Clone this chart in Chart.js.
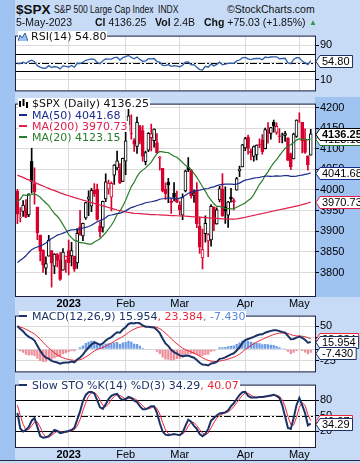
<!DOCTYPE html>
<html>
<head>
<meta charset="utf-8">
<script src="https://cdn.jsdelivr.net/npm/chart.js@4.4.1/dist/chart.umd.min.js"></script>
<style>
html, body { margin: 0; padding: 0; }
body { width: 360px; height: 463px; position: relative; overflow: hidden; background: #c7dbf7; font-family: "Liberation Sans", Arial, sans-serif; color: #111; }
canvas { position: absolute; left: 0; }
#strip { position: absolute; left: 0; top: 0; width: 15px; height: 460px; background: #a0c4f1; }
#foot { position: absolute; left: 0; top: 460px; width: 360px; height: 1px; background: #2a2a40; }
.t { position: absolute; white-space: nowrap; font-size: 10.5px; line-height: 12px; }
.b { font-weight: bold; }
.sq { transform: scaleX(0.78); transform-origin: 0 0; }
.lg { position: absolute; white-space: nowrap; font: 11px "DejaVu Sans", Verdana, sans-serif; line-height: 11px; background: #fff; padding-right: 1px; }
.dash { display: inline-block; width: 8px; height: 2px; vertical-align: middle; margin-right: 5px; position: relative; top: -1px; }
</style>
</head>
<body>
<div id="strip"></div>
<div id="foot"></div>
<canvas id="rsi" width="360" height="69" style="top:29px"></canvas>
<canvas id="price" width="360" height="212" style="top:97px"></canvas>
<canvas id="macd" width="360" height="70" style="top:309px"></canvas>
<canvas id="sto" width="360" height="82" style="top:378px"></canvas>

<div class="t b" style="left:16px;top:2px;font-size:13.5px;line-height:15px;">$SPX</div>
<div class="t sq" style="left:54px;top:3px;font-size:11px;">S&amp;P 500 Large Cap Index</div>
<div class="t sq" style="left:158px;top:3px;font-size:11px;">INDX</div>
<div class="t" style="left:227px;top:3px;">&copy;StockCharts.com</div>
<div class="t" style="left:16px;top:16px;">5-May-2023</div>
<div class="t" style="left:95px;top:16px;"><span class="b">Cl</span> 4136.25</div>
<div class="t" style="left:155px;top:16px;"><span class="b">Vol</span> 2.4B</div>
<div class="t" style="left:204px;top:16px;"><span class="b">Chg</span> +75.03 (+1.85%)</div>
<div class="t" style="left:309px;top:17px;font-size:8px;color:#2a9a3a;">&#9650;</div>

<div class="lg" style="left:18px;top:31px;"><svg width="10" height="9" style="vertical-align:-1px;margin-right:3px"><polyline points="0,9 2,3 4,6 7,1 10,9" fill="#9cc0ee" stroke="#2d5ea8" stroke-width="1"/></svg>RSI(14) 54.80</div>

<div class="lg" style="left:18px;top:98px;"><svg width="11" height="9" style="vertical-align:-1px;margin-right:3px"><rect x="1" y="2" width="2" height="6" fill="#000"/><rect x="4.5" y="0" width="2" height="7" fill="#000"/><rect x="8" y="3" width="2" height="6" fill="#000"/></svg>$SPX (Daily) 4136.25</div>
<div class="lg" style="left:19px;top:110px;color:#1a2b8c;"><span class="dash" style="background:#1a2b8c"></span>MA(50) 4041.68</div>
<div class="lg" style="left:19px;top:121px;color:#e0204a;"><span class="dash" style="background:#e0204a"></span>MA(200) 3970.73</div>
<div class="lg" style="left:19px;top:132px;color:#2a7d2a;"><span class="dash" style="background:#2a7d2a"></span>MA(20) 4123.15</div>

<div class="lg" style="left:19px;top:311px;color:#1c3266;"><span class="dash" style="background:#1c3266"></span>MACD(12,26,9) 15.954<span style="color:#e8283c">, 23.384</span><span style="color:#5a8ad8">, -7.430</span></div>
<div class="lg" style="left:19px;top:380px;color:#1c3266;"><span class="dash" style="background:#1c3266"></span>Slow STO %K(14) %D(3) 34.29<span style="color:#e8283c">, 40.07</span></div>

<script>
// trading days shown, Dec 2022 .. May 2023
const dates = [
  '12/6','12/7','12/8','12/9','12/12','12/13','12/14','12/15','12/16','12/19','12/20','12/21','12/22','12/23','12/27','12/28','12/29','12/30',
  '1/3','1/4','1/5','1/6','1/9','1/10','1/11','1/12','1/13','1/17','1/18','1/19','1/20','1/23','1/24','1/25','1/26','1/27','1/30','1/31',
  '2/1','2/2','2/3','2/6','2/7','2/8','2/9','2/10','2/13','2/14','2/15','2/16','2/17','2/21','2/22','2/23','2/24','2/27','2/28',
  '3/1','3/2','3/3','3/6','3/7','3/8','3/9','3/10','3/13','3/14','3/15','3/16','3/17','3/20','3/21','3/22','3/23','3/24','3/27','3/28','3/29','3/30','3/31',
  '4/3','4/4','4/5','4/6','4/10','4/11','4/12','4/13','4/14','4/17','4/18','4/19','4/20','4/21','4/24','4/25','4/26','4/27','4/28',
  '5/1','5/2','5/3','5/4','5/5'
];
const monthStarts = ['1/3', '2/1', '3/1', '4/3', '5/1'];
const monthLabels = ['2023', 'Feb', 'Mar', 'Apr', 'May'];

const priorClose = 3998.8;
const open = [
  3996.6,3933.3,3947.8,3954.2,3939.3,4069.4,4015.5,3958.4,3890.9,3853.8,3810.5,3839.5,3853.3,3815.1,3843.3,3829.6,3805.5,3829.1,
  3853.3,3840.4,3839.7,3823.4,3910.8,3888.6,3932.4,3977.6,3960.6,3999.3,4002.3,3911.8,3909.0,3978.1,4001.7,3982.7,4036.1,4053.7,4049.3,4020.9,
  4070.1,4158.7,4136.7,4119.6,4105.4,4153.5,4144.3,4068.9,4096.6,4126.7,4119.5,4114.8,4077.4,4052.4,4001.8,4018.6,3973.2,3992.4,3977.2,
  3963.3,3938.7,3998.0,4055.2,4048.3,3987.6,3998.7,3912.8,3835.1,3894.0,3876.7,3878.9,3958.7,3917.5,3975.9,4002.0,3959.2,3939.2,3982.9,3974.1,3999.5,4046.7,4056.2,
  4102.2,4128.0,4094.5,4081.2,4085.2,4110.3,4121.7,4100.0,4140.1,4137.2,4164.3,4139.3,4130.5,4132.1,4132.1,4126.4,4087.8,4075.3,4129.6,
  4166.8,4164.1,4122.3,4082.6,4084.7
];
const high = [
  4001.5,3957.6,3974.2,3977.0,3990.7,4101.0,4053.8,3958.4,3890.9,3854.9,3838.2,3889.8,3853.3,3845.8,3846.7,3848.3,3858.2,3839.9,
  3878.5,3873.2,3839.7,3906.2,3950.6,3919.8,3970.1,3997.8,4004.0,4015.4,4014.2,3922.9,3973.0,4039.3,4023.9,4019.6,4061.6,4094.2,4063.9,4077.2,
  4149.0,4195.4,4182.4,4124.6,4176.5,4156.9,4156.2,4094.4,4138.9,4159.8,4148.1,4136.5,4081.5,4052.4,4017.4,4028.3,3978.3,4018.1,3997.5,
  3971.7,3990.8,4048.3,4078.5,4050.0,4000.4,4017.8,3934.1,3905.1,3937.3,3894.3,3964.5,3958.9,3956.6,4009.1,4039.5,4007.7,3972.7,4003.8,3979.2,4030.6,4057.9,4110.8,
  4127.7,4133.1,4099.7,4107.3,4109.5,4124.3,4134.4,4150.3,4163.2,4151.7,4169.5,4162.6,4148.6,4138.0,4142.4,4126.4,4089.7,4138.2,4170.1,
  4186.9,4164.1,4148.3,4082.6,4147.0
];
const low = [
  3918.4,3922.7,3935.8,3933.0,3935.3,3993.0,3965.7,3879.5,3827.9,3800.0,3795.6,3839.5,3764.5,3797.0,3813.2,3780.8,3805.5,3800.3,
  3794.3,3815.8,3802.4,3809.6,3890.4,3877.3,3928.5,3937.6,3947.7,3984.6,3926.6,3885.5,3897.9,3971.6,3989.8,3949.1,4013.3,4048.7,4015.6,4020.4,
  4037.2,4141.9,4123.4,4093.4,4088.4,4111.7,4069.7,4060.8,4092.7,4095.0,4104.0,4089.5,4048.0,3995.2,3976.9,3969.2,3943.1,3973.6,3969.0,
  3939.1,3928.2,3995.2,4044.6,3980.3,3969.8,3908.7,3846.3,3808.9,3873.6,3838.2,3864.1,3901.3,3916.9,3971.2,3936.2,3919.1,3909.2,3970.5,3951.5,3999.5,4032.1,4056.2,
  4095.3,4086.9,4072.6,4069.8,4072.6,4102.6,4086.9,4099.4,4113.2,4123.2,4140.4,4134.5,4114.6,4113.9,4117.8,4071.4,4049.4,4075.3,4127.2,
  4164.1,4089.7,4088.9,4048.3,4084.7
];
const close = [
  3941.3,3933.9,3963.5,3934.4,3990.6,4019.7,3995.3,3895.8,3852.4,3817.7,3821.6,3878.4,3822.4,3844.8,3829.3,3783.2,3849.3,3839.5,
  3824.1,3853.0,3808.1,3895.1,3892.1,3919.3,3969.6,3983.2,3999.1,3991.0,3928.9,3898.9,3972.6,4019.8,4017.0,4016.2,4060.4,4070.6,4017.8,4076.6,
  4119.2,4179.8,4136.5,4111.1,4164.0,4117.9,4081.5,4090.5,4137.3,4136.1,4147.6,4090.4,4079.1,3997.3,3991.1,4012.3,3970.0,3982.2,3970.2,
  3951.4,3981.4,4045.6,4048.4,3986.4,3992.0,3918.3,3861.6,3855.8,3919.3,3891.9,3960.3,3916.6,3951.6,4002.9,3937.0,3948.7,3971.0,3977.5,3971.3,4027.8,4050.8,4109.3,
  4124.5,4100.6,4090.4,4105.0,4109.1,4108.9,4092.0,4146.2,4137.6,4151.3,4154.9,4154.5,4129.8,4133.5,4137.0,4071.6,4056.0,4135.4,4169.5,
  4167.9,4119.6,4090.8,4061.2,4136.25
];
const ma20 = [
  3972.1,3977.4,3988.2,3987.1,3987.0,3990.1,3990.3,3987.1,3982.4,3975.0,3968.6,3962.3,3952.1,3943.0,3936.3,3927.6,3916.0,3904.2,
  3891.8,3884.5,3877.9,3875.9,3872.3,3871.6,3870.5,3868.7,3868.9,3873.7,3877.5,3881.5,3889.1,3896.2,3905.9,3914.5,3926.0,3940.4,3948.8,3960.7,
  3975.4,3991.8,4008.2,4019.0,4032.6,4042.5,4048.1,4053.5,4060.4,4067.6,4078.6,4088.1,4093.5,4092.3,4091.1,4090.9,4086.3,4081.9,4079.5,
  4073.3,4066.4,4059.7,4055.3,4049.0,4040.4,4030.5,4019.5,4007.7,3996.8,3984.6,3975.3,3966.6,3960.2,3960.5,3957.8,3954.6,3954.6,3954.4,3954.5,3958.3,3961.7,3964.9,
  3968.7,3974.4,3979.4,3988.7,4001.1,4013.7,4022.4,4035.1,4043.9,4055.7,4065.8,4073.4,4083.1,4092.3,4100.6,4105.3,4109.5,4114.9,4120.9,
  4123.8,4123.5,4123.1,4121.6,4123.15
];
const ma50 = [
  3823.9,3829.7,3834.6,3840.4,3848.5,3855.4,3859.4,3861.7,3863.9,3867.4,3871.6,3877.4,3882.3,3885.8,3890.7,3892.8,3895.4,3898.3,
  3901.5,3903.5,3903.7,3904.4,3905.6,3907.9,3909.2,3911.5,3914.3,3918.9,3923.1,3925.7,3929.0,3932.8,3938.2,3939.4,3940.8,3943.0,3943.5,3945.9,
  3949.4,3953.6,3957.4,3959.5,3962.3,3964.1,3966.4,3969.1,3970.3,3971.4,3973.0,3974.8,3977.5,3978.8,3979.4,3980.9,3980.5,3979.8,3979.3,
  3980.4,3983.0,3987.5,3992.0,3994.2,3997.6,3999.1,3999.7,4001.2,4002.6,4003.6,4006.3,4007.6,4010.5,4012.6,4013.5,4014.1,4014.2,4014.0,4013.5,4014.2,4016.7,4020.9,
  4023.9,4025.5,4027.0,4028.8,4029.7,4030.5,4032.0,4033.4,4033.7,4033.2,4033.5,4034.4,4033.7,4034.0,4035.1,4034.8,4033.1,4033.1,4033.6,
  4035.1,4035.9,4037.8,4039.2,4041.68
];
const ma200 = [
  4036,4033,4030.5,4027,4024.5,4021.5,4018.5,4015.5,4012.5,4009.5,4006.5,4004,4001,3998.5,3996,3993,3990.5,3988,
  3986,3984,3981.5,3979.5,3977.5,3975.5,3973.5,3971.5,3969.5,3967.5,3965.5,3963.5,3961.5,3959.5,3957.5,3955.5,3953.5,3951.5,3950,3948.5,
  3947,3945.5,3944.5,3943.5,3943,3942.5,3942,3941.5,3941,3940.5,3940.5,3940,3939.5,3939,3939,3938.5,3938,3938,3937.5,
  3937,3937,3936.5,3936,3935.5,3935,3934.5,3934,3933.5,3933,3932.5,3932,3931.5,3931,3930.5,3930,3930,3929.5,3929.5,3929.5,3930,3931,3932.5,
  3934,3935.5,3937,3938.5,3940,3941.5,3943,3944.5,3946,3947.5,3949,3950.5,3952,3953.5,3955,3956.5,3958,3959.5,3961,
  3962.5,3964.5,3966.5,3968.5,3970.73
];
const rsi = [
  48,48,51,48,53,55.5,52,43,39.5,37,37.5,43,38.5,41,39.5,35.5,42.5,41.5,
  40,43.5,39.5,48.5,48,51,55.5,57,58.5,57.5,50.5,47.5,54.5,58.5,58,58,61.5,62.5,56,61.5,
  64,66.5,62,59,63,57.5,53,54,59,58.5,59.5,52.5,51,43.5,43,45.5,41.5,43,42,
  40.5,44,51,51.5,45,45.5,39.5,34,33,41.5,39.5,46.5,42.5,46,51,45,46.5,48.5,49,48.5,54,56,61,
  62,58.5,57,59,59.5,59.5,56.5,63,61.5,63,63.5,63.5,59,59.5,60,49.5,47.5,57.5,61.5,
  61,53.5,49.5,45.5,54.80
];
const macd = [
  50,44,39,32,27,24,19,8,-3,-12,-18,-20,-25,-27,-28.5,-31,-29,-28.5,
  -28.5,-26.5,-28,-22,-17.5,-11.5,-3,4,10.5,15,13,9.5,13,19,23.5,26.5,32,37,36,43,
  48,55,57,56,58,56,52,49,49,48,47.5,42,35,23,13,7,-1,-6,-9,
  -13,-15,-14,-13.5,-16,-18,-23,-29,-33,-33.5,-35,-30.5,-29.5,-27,-20.5,-19.5,-17.5,-14,-11,-8.5,-2.5,4.5,14,
  20,22.5,24.5,27,30,32,32.5,36,38,40,41.5,41.5,39.5,37.5,36,29,22,22.5,25.5,
  27.5,25,20.5,14.5,15.954
];
const signal = [
  51,48,46.2,43.4,40.1,36.9,33.3,28.2,22,15.2,8.6,2.9,-2.7,-7.6,-11.8,-15.6,-18.3,-20.3,
  -22,-22.9,-23.9,-23.5,-22.3,-20.1,-16.7,-12.6,-8,-3.4,-0.1,1.8,4,7,10.3,13.5,17.2,21.2,24.2,27.9,
  31.9,36.5,40.6,43.7,46.6,48.4,49.1,49.1,49.1,48.9,48.6,47.3,44.8,40.4,34.9,29.3,23.2,17.4,12.1,
  7.1,2.7,-0.6,-3.2,-5.8,-8.2,-11.2,-14.8,-18.4,-21.4,-24.1,-25.4,-26.2,-26.4,-25.2,-24.1,-22.8,-21,-19,-16.9,-14,-10.3,-5.4,
  -0.3,4.3,8.3,12,15.6,18.9,21.6,24.5,27.2,29.8,32.1,34,35.1,35.6,35.7,34.4,31.9,30,29.1,
  28.8,28.5,27.3,25.2,23.384
];
const hist = [
  -1,-4,-7.2,-11.4,-13.1,-12.9,-14.3,-20.2,-25,-27.2,-26.6,-22.9,-22.3,-19.4,-16.7,-15.4,-10.7,-8.2,
  -6.5,-3.6,-4.1,1.5,4.8,8.6,13.7,16.6,18.5,18.4,13.1,7.7,9,12,13.2,13,14.8,15.8,11.8,15.1,
  16.1,18.5,16.4,12.3,11.4,7.6,2.9,-0.1,-0.1,-0.9,-1.1,-5.3,-9.8,-17.4,-21.9,-22.3,-24.2,-23.4,-21.1,
  -20.1,-17.7,-13.4,-10.3,-10.2,-9.8,-11.8,-14.2,-14.6,-12.1,-10.9,-5.1,-3.3,-0.6,4.7,4.6,5.3,7,8,8.4,11.5,14.8,19.4,
  20.3,18.2,16.2,15,14.4,13.1,10.9,11.5,10.8,10.2,9.4,7.5,4.4,1.9,0.3,-5.4,-9.9,-7.5,-3.6,
  -1.3,-3.5,-6.8,-10.7,-7.43
];
const stoK = [
  55,25,19,22,28,40,45,28,10,7,8,10,16,22,20,16,17,19,
  20,22,26,42,58,78,90,95,96,93,80,66,63,72,82,88,91,92,84,80,
  82,86,84,79,76,68,62,62,65,68,68,55,35,19,13,12,13,14,13,
  12,17,30,42,38,30,24,14,10,14,24,40,45,50,54,55,56,60,68,74,82,90,95,
  96,88,85,85,85,86,86,87,88,89,90,88,84,70,48,26,24,45,70,
  84,70,55,31,34.29
];
const stoD = [
  70,50,33,22,23,30,37.7,37.7,27.7,15,8.3,8.3,11.3,16,19.3,19.3,17.7,17.3,
  18.7,20.3,22.7,30,42,59.3,75.3,87.7,93.7,94.7,89.7,79.7,69.7,67,72.3,80.7,87,90.3,89,85.3,
  82,82.7,84,83,79.7,74.3,68.7,64,63,65,67,63.7,52.7,36.3,22.3,14.7,12.7,13,13.3,
  13,14,19.7,29.7,36.7,36.7,30.7,22.7,16,12.7,16,26,36.3,45,49.7,53,55,57,61.3,67.3,74.7,82,89,
  93.7,93,89.7,86,85,85.3,85.7,86.3,87,88,89,89,87.3,80.7,67.3,48,32.7,31.7,46.3,
  66.3,74.7,69.7,52,40.07
];

const rsiTicks = [10, 30, 50, 70, 90];
const priceTicks = [3800, 3850, 3900, 3950, 4000, 4050, 4100, 4150, 4200];
const macdTicks = [-25, 0, 25, 50];
const stoTicks = [20, 50, 80];

const LIGHT = '#c7dbf7', MID = '#a0c4f1', GRID = '#dadada', EDGE = '#1e1e3c';
const RED = '#d8002c', NAVY = '#1c3266';

const labels = dates.concat(['']);
const monthIdx = monthStarts.map(d => dates.indexOf(d));

const panel = {
  id: 'panel',
  beforeDraw(chart, args, o) {
    const { ctx, chartArea: a, width, height } = chart;
    ctx.save();
    ctx.fillStyle = LIGHT;
    ctx.fillRect(0, 0, width, height);
    ctx.fillStyle = MID;
    ctx.fillRect(0, 0, 15, height);
    if (o.axisFill) ctx.fillRect(a.right, 0, width - a.right, a.bottom + 1);
    ctx.fillStyle = '#fff';
    ctx.fillRect(a.left, a.top, a.right - a.left, a.bottom - a.top);
    ctx.restore();
  },
  beforeDatasetsDraw(chart, args, o) {
    const { ctx, chartArea: a } = chart;
    const y = chart.scales.y;
    ctx.save();
    ctx.strokeStyle = '#000';
    ctx.lineWidth = 1;
    (o.solid || []).forEach(v => {
      const py = Math.round(y.getPixelForValue(v)) + 0.5;
      ctx.beginPath(); ctx.moveTo(a.left, py); ctx.lineTo(a.right, py); ctx.stroke();
    });
    ctx.setLineDash([7, 2, 2, 2]);
    (o.dashed || []).forEach(v => {
      const py = Math.round(y.getPixelForValue(v)) + 0.5;
      ctx.beginPath(); ctx.moveTo(a.left, py); ctx.lineTo(a.right, py); ctx.stroke();
    });
    ctx.restore();
  },
  afterDraw(chart, args, o) {
    const { ctx, chartArea: a } = chart;
    const y = chart.scales.y;
    ctx.save();
    ctx.strokeStyle = EDGE;
    ctx.lineWidth = 1;
    ctx.strokeRect(a.left - 0.5, a.top - 0.5, a.right - a.left + 1, a.bottom - a.top + 1);
    const x0 = a.right + 1;
    (o.tags || []).forEach(t => {
      const py = Math.round(y.getPixelForValue(t.value)) + 0.5;
      const text = t.value.toFixed(t.digits);
      ctx.font = (t.bold ? 'bold ' : '') + '11px "Liberation Sans"';
      const w = ctx.measureText(text).width + 5;
      ctx.beginPath();
      ctx.moveTo(x0, py);
      ctx.lineTo(x0 + 4, py - 6);
      ctx.lineTo(x0 + 4 + w, py - 6);
      ctx.lineTo(x0 + 4 + w, py + 6);
      ctx.lineTo(x0 + 4, py + 6);
      ctx.closePath();
      ctx.fillStyle = '#fff';
      ctx.fill();
      ctx.strokeStyle = t.color;
      ctx.stroke();
      ctx.fillStyle = '#000';
      ctx.textBaseline = 'middle';
      ctx.fillText(text, x0 + 6, py + 0.5);
    });
    ctx.restore();
  }
};

function xScale(showLabels) {
  return {
    type: 'category',
    offset: true,
    afterBuildTicks: s => { s.ticks = monthIdx.map(v => ({ value: v })); },
    afterFit: s => { s.height = showLabels ? 13 : 0; },
    grid: { color: GRID, drawTicks: false, offset: false },
    border: { display: false },
    ticks: {
      display: showLabels, autoSkip: false, maxRotation: 0, padding: 1, color: '#000',
      font: c => ({ family: 'Liberation Sans', size: 11, weight: c.index === 0 ? 'bold' : 'normal' }),
      callback: (v, i) => monthLabels[i]
    }
  };
}

function yScale(min, max, ticks) {
  return {
    position: 'right', min: min, max: max,
    afterBuildTicks: s => { s.ticks = ticks.map(v => ({ value: v })); },
    afterFit: s => { s.width = 45; },
    grid: { color: GRID, tickColor: '#000', tickLength: 4 },
    border: { display: false },
    ticks: { color: '#000', padding: 1, font: { family: 'Liberation Sans', size: 11 }, callback: v => String(v) }
  };
}

function baseOptions(padBottom, showX, yopts, panelOpts) {
  return {
    responsive: false,
    animation: false,
    events: [],
    layout: { padding: { left: 16, right: 0, top: 1, bottom: padBottom } },
    scales: { x: xScale(showX), y: yopts },
    plugins: { legend: { display: false }, tooltip: { enabled: false }, panel: panelOpts }
  };
}

function line(data, color, width, order) {
  return { type: 'line', data: data, borderColor: color, borderWidth: width, pointRadius: 0, tension: 0, fill: false, order: order };
}

// RSI
new Chart(document.getElementById('rsi'), {
  type: 'line',
  data: { labels: labels, datasets: [line(rsi, '#2d5ea8', 1.3, 0)] },
  options: baseOptions(1, false, yScale(-14, 110, rsiTicks), {
    solid: [30, 70], dashed: [50],
    tags: [{ value: rsi[rsi.length - 1], digits: 2, color: NAVY }]
  }),
  plugins: [panel]
});

// Price candles
const candleColor = close.map((c, i) => c < (i ? close[i - 1] : priorClose) ? RED : '#000');
const bodyFill = close.map((c, i) => c >= open[i] ? '#fff' : candleColor[i]);

new Chart(document.getElementById('price'), {
  type: 'bar',
  data: {
    labels: labels,
    datasets: [
      line(ma50, '#1a2b8c', 1.2, 0),
      line(ma200, '#e0204a', 1.2, 0),
      line(ma20, '#2a7d2a', 1.2, 0),
      {
        type: 'bar', data: open.map((o, i) => [o, close[i]]),
        backgroundColor: bodyFill, borderColor: candleColor, borderWidth: 1, borderSkipped: false,
        barThickness: 3, grouped: false, order: 1
      },
      {
        type: 'bar', data: low.map((l, i) => [l, high[i]]),
        backgroundColor: candleColor, barThickness: 1, grouped: false, order: 2
      }
    ]
  },
  options: baseOptions(0, true, yScale(3743, 4207, priceTicks), {
    axisFill: true,
    tags: [
      { value: ma200[ma200.length - 1], digits: 2, color: '#e0204a' },
      { value: ma50[ma50.length - 1], digits: 2, color: '#1a2b8c' },
      { value: ma20[ma20.length - 1], digits: 2, color: '#2a7d2a' },
      { value: close[close.length - 1], digits: 2, color: '#000', bold: true }
    ]
  }),
  plugins: [panel]
});

// MACD
new Chart(document.getElementById('macd'), {
  type: 'bar',
  data: {
    labels: labels,
    datasets: [
      line(macd, NAVY, 2, 0),
      line(signal, '#e8283c', 1, 0),
      {
        type: 'bar', data: hist, order: 1,
        backgroundColor: hist.map(v => v >= 0 ? '#6b9be6' : '#ee8e9a'),
        barPercentage: 0.8, categoryPercentage: 1
      }
    ]
  },
  options: baseOptions(1, false, yScale(-47.7, 70.9, macdTicks), {
    tags: [
      { value: signal[signal.length - 1], digits: 3, color: '#e8283c' },
      { value: macd[macd.length - 1], digits: 3, color: NAVY },
      { value: hist[hist.length - 1], digits: 3, color: NAVY }
    ]
  }),
  plugins: [panel]
});

// Slow stochastic
new Chart(document.getElementById('sto'), {
  type: 'line',
  data: {
    labels: labels,
    datasets: [line(stoK, NAVY, 2, 0), line(stoD, '#e8283c', 1, 1)]
  },
  options: baseOptions(0, true, yScale(-11, 108, stoTicks), {
    solid: [20, 80], dashed: [50],
    tags: [
      { value: stoD[stoD.length - 1], digits: 2, color: '#e8283c' },
      { value: stoK[stoK.length - 1], digits: 2, color: NAVY }
    ]
  }),
  plugins: [panel]
});
</script>
</body>
</html>
